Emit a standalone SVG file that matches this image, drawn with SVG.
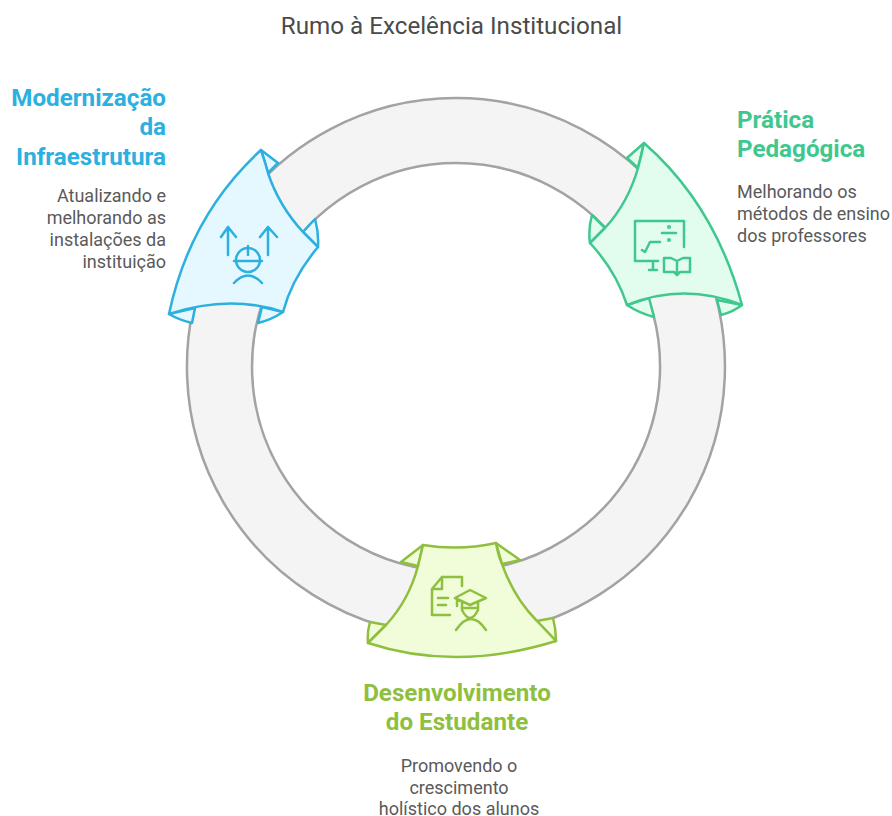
<svg xmlns="http://www.w3.org/2000/svg" width="892" height="816" viewBox="0 0 892 816">
<style>
text{font-family:Roboto,"Liberation Sans",sans-serif}
.t{font-size:24.200px;fill:#4a4a4a}
.h{font-size:24.200px;font-weight:700}
.b{font-size:18px;fill:#5a5a5a}
.e{text-anchor:end}.m{text-anchor:middle}
.blue{fill:#e5f7ff;stroke:#2bb0e0}
.green{fill:#e2fcee;stroke:#3fc88e}
.lime{fill:#f1fcd9;stroke:#8fbf3f}
.s{stroke-width:2.5;stroke-linejoin:round;stroke-linecap:round}
.i{fill:none;stroke-width:2.5;stroke-linecap:round;stroke-linejoin:round}
.ib{stroke:#2bb0e0}.ig{stroke:#3fc88e}.il{stroke:#8fbf3f}
</style>
<rect width="892" height="816" fill="#fff"/>
<text class="t m" x="451.500" y="34">Rumo à Excelência Institucional</text>
<g id="connectors">
<path d="M456 98A269 269 0 1 1 455.900 98ZM456 163A204 204 0 1 0 456.100 163Z" fill="#f4f4f4" fill-rule="evenodd" stroke="#a3a3a3" stroke-width="2.500"/>
</g>
<g id="node-infra">
<path class="blue s" d="M261 150L278 163L268 173ZM315 219Q319 233 318 247L303 232ZM169 314L195 308L192 323Q179 320 169 314ZM283 312L262 307L258 323Q271 320 283 312Z"/>
<path class="blue s" d="M261 150Q266 165 268 173Q279 206 303 232L318 247Q292 278 283 312Q230 294 169 314Q190 215 261 150Z"/>
<g class="i ib"><path d="M228 255V227M221 237L228 227L236 237M268 255V227M260 237L268 227L277 237"/><circle cx="248" cy="260" r="12"/><path d="M234 261H262M248 246V255M234 283Q248 268 262 283"/></g>
<text class="h e" fill="#2bb0e0" x="166" y="106">Modernização</text>
<text class="h e" fill="#2bb0e0" x="166" y="135">da</text>
<text class="h e" fill="#2bb0e0" x="166" y="165">Infraestrutura</text>
<text class="b e" x="166" y="202">Atualizando e</text>
<text class="b e" x="166" y="224">melhorando as</text>
<text class="b e" x="166" y="246">instalações da</text>
<text class="b e" x="166" y="268">instituição</text>
</g>
<g id="node-pratica">
<path class="green s" d="M644 143L627 158L638 168ZM592 215Q588 229 590 243L605 228ZM742 305L717 300L721 315Q733 312 742 305ZM627 305L649 298L654 317Q639 313 627 305Z"/>
<path class="green s" d="M644 143Q641 157 638 168Q628 203 605 228L590 243Q616 271 627 305Q684 282 742 305Q715 205 644 143Z"/>
<g class="i ig"><path d="M684 247V221H635V261H658M653 261V270M649 270H657M642 250L645 252L650 242H660M662 233H676"/><circle cx="669" cy="227" r=".8"/><circle cx="669" cy="240" r=".8"/><path d="M664 258H671L677 261L683 258H690V272H680L677 275L674 272H664ZM677 261V272"/></g>
<text class="h" fill="#3fc88e" x="737" y="128">Prática</text>
<text class="h" fill="#3fc88e" x="737" y="157">Pedagógica</text>
<text class="b" x="737" y="198">Melhorando os</text>
<text class="b" x="737" y="220">métodos de ensino</text>
<text class="b" x="737" y="242">dos professores</text>
</g>
<g id="node-estudante">
<path class="lime s" d="M423 545L401 562L418 566ZM496 543L520 560L502 564ZM368 643Q367 632 370 622L386 625ZM556 641Q556 629 553 618L537 621Z"/>
<path class="lime s" d="M423 545Q460 551 496 543Q498 555 502 564Q514 598 537 621L556 641Q456 672 368 643L386 625Q409 600 418 566Z"/>
<g class="i il"><path d="M442 577H462V586M442 577L432 589V615H450M442 578V589H432M438 598H448M438 605H446"/><path d="M455 598L470 590L486 598L470 605ZM457 598V606M462 602V610Q470 626 478 610V602M463 608H477M456 630Q471 608 486 630"/></g>
<text class="h m" fill="#8fbf3f" x="457" y="701">Desenvolvimento</text>
<text class="h m" fill="#8fbf3f" x="457" y="730">do Estudante</text>
<text class="b m" x="459" y="772">Promovendo o</text>
<text class="b m" x="459" y="794">crescimento</text>
<text class="b m" x="459" y="815">holístico dos alunos</text>
</g>
</svg>
